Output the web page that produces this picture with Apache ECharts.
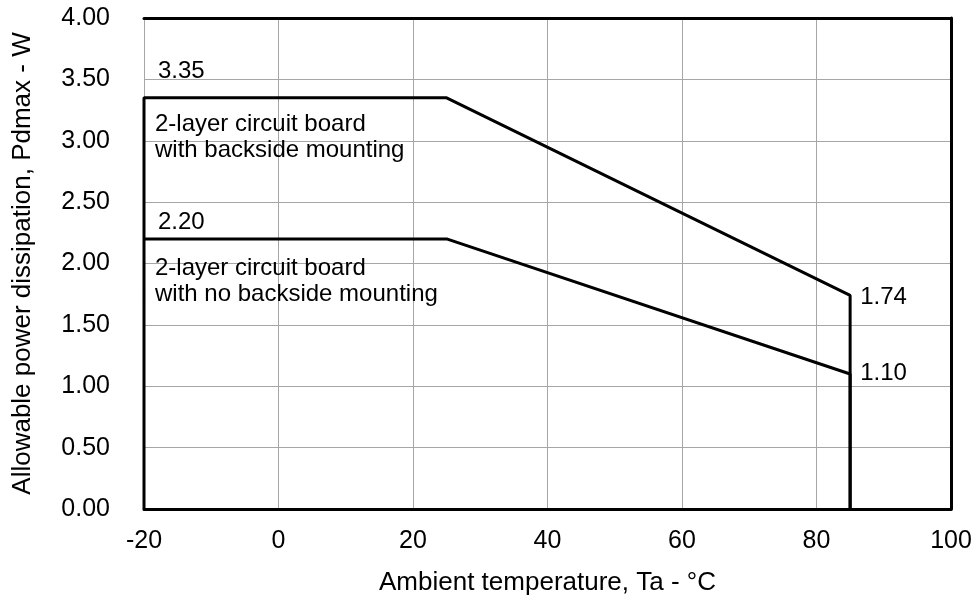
<!DOCTYPE html>
<html><head><meta charset="utf-8">
<script src="https://cdn.jsdelivr.net/npm/echarts@6/dist/echarts.min.js"></script>
<style>html,body{margin:0;padding:0;background:#fff}#c{width:979px;height:603px}</style>
</head><body><div id="c"></div>
<script>
const xTicks = [-20, 0, 20, 40, 60, 80, 100];
const backsideX = [-20, -20, 25, 85, 85];
const backsideY = [0, 3.35, 3.35, 1.74, 0];
const noBacksideX = [-20, 25, 85, 85];
const noBacksideY = [2.20, 2.20, 1.10, 0];
const valueLabels = [
  {x: -20, y: 3.35, text: '3.35', off: [14, -26]},
  {x: -20, y: 2.20, text: '2.20', off: [14, -17]},
  {x: 85, y: 1.74, text: '1.74', off: [10, 2]},
  {x: 85, y: 1.10, text: '1.10', off: [10, -1]}
];
const notes = [
  {x: -20, y: 3.35, text: '2-layer circuit board\nwith backside mounting', off: [11, 40]},
  {x: -20, y: 2.20, text: '2-layer circuit board\nwith no backside mounting', off: [11, 42]}
];
const FONT = 'Liberation Sans, Arial, sans-serif';
const chart = echarts.init(document.getElementById('c'));
const pts = (xs, ys) => xs.map((x, i) => [x, ys[i]]);
const labelSeries = (arr, fs) => ({
  type: 'scatter', symbolSize: 0, silent: true, z: 5,
  itemStyle: {opacity: 1},
  data: arr.map(d => ({
    value: [d.x, d.y],
    label: {show: true, formatter: d.text, position: d.off, align: 'left', verticalAlign: 'middle',
      color: '#000', opacity: 1, fontSize: fs, fontFamily: FONT, lineHeight: 26}
  }))
});
chart.setOption({
  animation: false,
  grid: {left: 144, right: 28, top: 18, bottom: 94},
  xAxis: [{
    type: 'value', min: -20, max: 100, interval: 20, position: 'bottom',
    axisLine: {show: true, onZero: false, lineStyle: {color: '#000', width: 3}},
    axisTick: {show: false},
    axisLabel: {color: '#000', fontSize: 25, fontFamily: FONT, margin: 20},
    splitLine: {show: true, lineStyle: {color: '#a6a6a6', width: 1}},
    name: 'Ambient temperature, Ta - °C', nameLocation: 'middle', nameGap: 61,
    nameTextStyle: {color: '#000', fontSize: 26, fontFamily: FONT}
  }, {
    type: 'value', min: -20, max: 100, interval: 20, position: 'top',
    axisLine: {show: true, onZero: false, lineStyle: {color: '#000', width: 3}},
    axisTick: {show: false}, axisLabel: {show: false}, splitLine: {show: false}
  }],
  yAxis: [{
    type: 'value', min: 0, max: 4, interval: 0.5,
    axisLine: {show: true, onZero: false, lineStyle: {color: '#a6a6a6', width: 1}},
    axisTick: {show: false},
    axisLabel: {color: '#000', fontSize: 25, fontFamily: FONT, margin: 34, formatter: v => v.toFixed(2)},
    splitLine: {show: true, lineStyle: {color: '#a6a6a6', width: 1}},
    name: 'Allowable power dissipation, Pdmax - W', nameLocation: 'middle', nameGap: 108,
    nameTextStyle: {color: '#000', fontSize: 26, fontFamily: FONT}
  }, {
    type: 'value', min: 0, max: 4, interval: 0.5, position: 'right',
    axisLine: {show: true, onZero: false, lineStyle: {color: '#000', width: 3}},
    axisTick: {show: false}, axisLabel: {show: false}, splitLine: {show: false}
  }],
  series: [
    {type: 'line', data: pts(backsideX, backsideY), symbol: 'none', lineStyle: {color: '#000', width: 3}, z: 3},
    {type: 'line', data: pts(noBacksideX, noBacksideY), symbol: 'none', lineStyle: {color: '#000', width: 3}, z: 3},
    labelSeries(valueLabels, 24),
    labelSeries(notes, 24)
  ]
});
</script></body></html>
